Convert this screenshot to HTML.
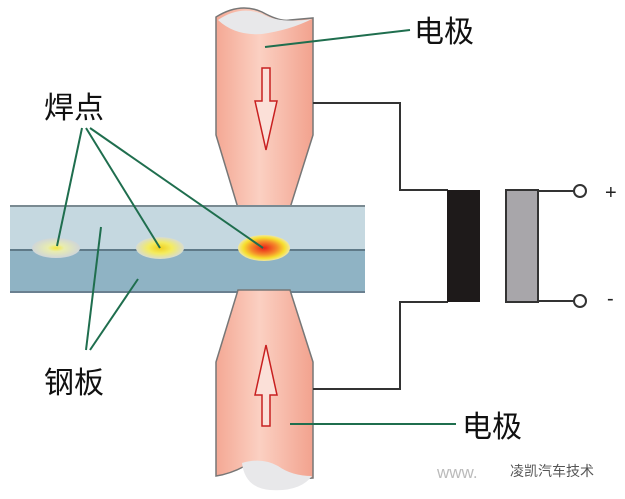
<!DOCTYPE html>
<html><head><meta charset="utf-8"><style>
html,body{margin:0;padding:0;background:#fff;}
svg{display:block}
text{font-family:"Liberation Sans","Noto Sans CJK SC",sans-serif;}
</style></head><body>
<svg width="625" height="499" viewBox="0 0 625 499">
<defs>
<linearGradient id="cu" x1="0" x2="1" y1="0" y2="0">
<stop offset="0" stop-color="#f4a894"/><stop offset="0.45" stop-color="#fbd0c2"/><stop offset="1" stop-color="#f2a28e"/>
</linearGradient>
<radialGradient id="hot"><stop offset="0" stop-color="#e8201a"/><stop offset="0.5" stop-color="#f58a2a"/><stop offset="0.8" stop-color="#f6e030"/><stop offset="1" stop-color="#f0e6a0"/></radialGradient>
<radialGradient id="warm"><stop offset="0" stop-color="#f0d020"/><stop offset="0.5" stop-color="#f4ec60"/><stop offset="1" stop-color="#d8dcd0"/></radialGradient>
<radialGradient id="cool"><stop offset="0" stop-color="#f4e840"/><stop offset="0.35" stop-color="#e8ecb0"/><stop offset="1" stop-color="#d0d6d8"/></radialGradient>
</defs>
<!-- top electrode -->
<path d="M216,17 Q240,2 262,12 Q280,22 290,20 L313,18 L313,135 L290,208 L238,208 L216,135 Z" fill="url(#cu)" stroke="#777" stroke-width="1.5"/>
<path d="M218,20 Q240,5 262,14 Q280,24 312,19 Q290,30 262,34 Q235,36 218,20Z" fill="#e8e8ea"/>
<path d="M262,68 L270,68 L270,101 L277,101 L266,150 L255,101 L262,101 Z" fill="#fbe0d8" stroke="#c82020" stroke-width="1.5"/>
<!-- plate -->
<rect x="10" y="206" width="355" height="44" fill="#c5d8e0"/>
<rect x="10" y="250" width="355" height="42" fill="#8fb3c4"/>
<line x1="10" y1="206" x2="365" y2="206" stroke="#7a8a92" stroke-width="2"/>
<line x1="10" y1="250" x2="365" y2="250" stroke="#5f7a88" stroke-width="2"/>
<line x1="10" y1="292" x2="365" y2="292" stroke="#6a8090" stroke-width="2"/>
<ellipse cx="56" cy="248" rx="24" ry="10" fill="url(#cool)"/>
<ellipse cx="160" cy="248" rx="24" ry="11" fill="url(#warm)"/>
<ellipse cx="264" cy="248" rx="26" ry="13" fill="url(#hot)"/>
<!-- bottom electrode -->
<path d="M238,290 L290,290 L313,362 L313,478 Q290,480 278,470 Q262,460 245,466 Q230,474 216,476 L216,362 Z" fill="url(#cu)" stroke="#777" stroke-width="1.5"/>
<path d="M242,463 Q262,457 278,466 Q292,476 312,476 Q300,492 270,490 Q245,488 242,463Z" fill="#e8e8ea"/>
<path d="M262,426 L270,426 L270,395 L277,395 L266,345 L255,395 L262,395 Z" fill="#fbe0d8" stroke="#c82020" stroke-width="1.5"/>
<!-- circuit -->
<polyline points="313,103 400,103 400,190 448,190" fill="none" stroke="#333" stroke-width="2"/>
<polyline points="313,389 400,389 400,302 448,302" fill="none" stroke="#333" stroke-width="2"/>
<rect x="447" y="190" width="33" height="112" fill="#1e1a1a"/>
<rect x="506" y="190" width="32" height="112" fill="#a8a6aa" stroke="#333" stroke-width="2"/>
<line x1="538" y1="191" x2="574" y2="191" stroke="#333" stroke-width="2"/>
<line x1="538" y1="301" x2="574" y2="301" stroke="#333" stroke-width="2"/>
<circle cx="580" cy="191" r="6" fill="#fff" stroke="#333" stroke-width="2"/>
<circle cx="580" cy="301" r="6" fill="#fff" stroke="#333" stroke-width="2"/>
<text x="605" y="199" font-size="20" fill="#222">+</text>
<text x="607" y="305" font-size="20" fill="#222">-</text>
<!-- leaders -->
<g stroke="#1f6e4e" stroke-width="2">
<line x1="265" y1="47" x2="410" y2="30"/>
<line x1="290" y1="424" x2="456" y2="424"/>
<line x1="82" y1="128" x2="57" y2="246"/>
<line x1="86" y1="128" x2="160" y2="248"/>
<line x1="90" y1="128" x2="263" y2="248"/>
<line x1="86" y1="350" x2="101" y2="227"/>
<line x1="90" y1="350" x2="138" y2="279"/>
</g>
<g font-size="30" fill="#111">
<text x="414" y="42">电极</text>
<text x="462" y="437">电极</text>
<text x="44" y="118">焊点</text>
<text x="44" y="393">钢板</text>
</g>
<text x="437" y="478" font-size="17" fill="#bbb">www.</text>
<text x="510" y="476" font-size="14" fill="#555">凌凯汽车技术</text>
</svg>
</body></html>
